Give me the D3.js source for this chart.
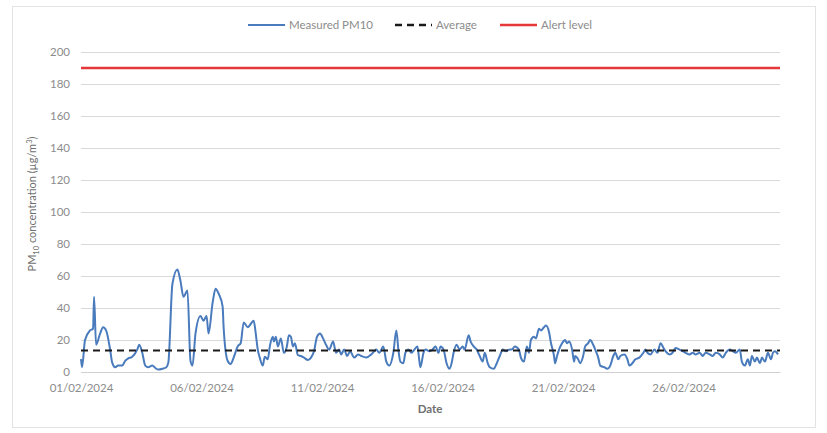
<!DOCTYPE html>
<html>
<head>
<meta charset="utf-8">
<script src="https://cdn.jsdelivr.net/npm/d3@7"></script>
<style>
  html, body { margin: 0; padding: 0; background: #fff; }
  svg { display: block; font-family: Lato, "Open Sans", "Liberation Sans", sans-serif; }
</style>
</head>
<body>
<svg id="chart" width="827" height="433"></svg>
<script>
// ---- Data ----
const startDate = new Date(2024, 1, 1, 0, 0);   // 01/02/2024
const endDate = new Date(2024, 2, 1, 0, 0);     // 01/03/2024
const tickDates = ["01/02/2024", "06/02/2024", "11/02/2024", "16/02/2024", "21/02/2024", "26/02/2024"];
const yTicks = [0, 20, 40, 60, 80, 100, 120, 140, 160, 180, 200];
const averageValue = 13.5;
const alertLevel = 190;
const legendLabels = ["Measured PM10", "Average", "Alert level"];

// hours after 01/02/2024 00:00
const hourOffsets = [
  0, 1, 4, 9, 12, 13, 15, 19, 22, 25, 29, 31, 34, 37, 41, 44, 47, 51, 56, 58,
  61, 64, 67, 71, 74, 77, 81, 85, 87, 91, 96, 99, 102, 106, 109, 111, 114, 119, 122, 125,
  127, 131, 134, 137, 141, 142, 146, 149, 152, 156, 159, 162, 166, 169, 172, 174, 176, 178, 181, 183,
  186, 188, 191, 192, 194, 196, 199, 202, 205, 207, 209, 211, 213, 216, 219, 222, 226, 229, 232, 235,
  238, 241, 244, 247, 251, 254, 257, 259, 262, 265, 268, 272, 276, 279, 284, 289, 292, 294, 297, 301,
  304, 307, 311, 314, 316, 318, 321, 323, 326, 329, 332, 335, 337, 338, 341, 343, 347, 350, 353, 356,
  358, 361, 364, 367, 369, 371, 374, 377, 380, 382, 386, 388, 391, 394, 397, 400, 402, 405, 407, 411,
  414, 417, 420, 423, 427, 429, 432, 436, 438, 441, 444, 446, 448, 451, 453, 456, 458, 461, 463, 466,
  468, 471, 472, 474, 476, 479, 482, 484, 486, 489, 491, 492, 495, 497, 500, 502, 505, 507, 510, 512,
  515, 517, 521, 524, 527, 530, 532, 535, 537, 541, 544, 546, 549, 552, 556, 560, 562, 564, 567, 571,
  574, 577, 580, 582, 586, 589, 592, 596, 599, 602, 606, 609, 612, 616, 619, 622, 626, 629, 632, 636,
  639, 642, 646, 649, 652, 656, 658, 661, 664, 666, 668, 671, 673, 676, 678, 681, 684, 687, 689, 691,
  694
];
const pm10Values = [
  8, 3, 20, 26, 27, 47, 17, 24, 28, 26, 14, 6, 3, 4, 4, 7, 8.5, 9.5, 14, 17,
  12, 4, 3, 4, 2.5, 1.5, 2, 3, 6, 55, 64, 57, 47, 51, 7, 4, 24, 35, 32, 35,
  24, 43, 52, 49, 41, 28, 7, 5, 9, 16, 18, 31, 28, 30, 32, 24, 14, 9, 4, 9.5,
  8, 16, 22, 19, 22, 16, 21, 12, 16, 23, 22, 16, 18, 10.5, 10, 9, 7.5, 9, 13, 22,
  24, 21, 17, 14, 19, 12, 14, 11, 14, 10, 13, 9, 11, 10, 9, 11, 13, 14, 12, 16,
  6.5, 4, 12, 26, 14, 6.5, 5.5, 12, 14, 12, 14, 16, 6.5, 3, 12, 14, 13, 14, 16, 12,
  16, 14, 5.5, 2, 5.5, 12, 17, 14, 16, 14, 23, 19, 16, 14, 10, 6.5, 12, 5.5, 3, 2,
  5.5, 10, 14, 13, 14, 14, 16, 14, 9, 6.5, 16, 12, 20, 22, 21, 27, 26, 28, 29, 25,
  18, 10, 5.5, 10, 14, 18, 20, 18, 19, 14, 6.5, 10, 8, 5.5, 10, 16, 18, 20, 17, 14,
  9, 4, 3, 2, 4, 10, 12, 8, 10, 11, 8, 4, 5.5, 8, 9, 12, 14, 12, 11, 14,
  12, 18, 15, 13, 11, 12, 15, 14, 13, 12, 11, 12, 11, 12, 10, 12, 11, 10, 12, 11,
  9, 12, 14, 13, 12, 14, 6.5, 4, 8, 4, 10, 6.5, 9, 5.5, 9, 6.5, 12, 8, 12, 13,
  11
];

// ---- Layout ----
const svg = d3.select("#chart");
const plot = { left: 81, right: 780, top: 52, bottom: 372 };
const parseDate = d3.timeParse("%d/%m/%Y");
const fmtDate = d3.timeFormat("%d/%m/%Y");

const x = d3.scaleTime().domain([startDate, endDate]).range([plot.left, plot.right]);
const y = d3.scaleLinear().domain([0, 200]).range([plot.bottom, plot.top]);

const series = hourOffsets.map((h, i) => ({ t: d3.timeHour.offset(startDate, h), v: pm10Values[i] }));

// outer border
svg.append("rect").attr("x", 12.5).attr("y", 6.5).attr("width", 803).attr("height", 421)
  .attr("fill", "none").attr("stroke", "#e3e3e3").attr("stroke-width", 1);

// gridlines
const yAxis = d3.axisLeft(y).tickValues(yTicks).tickSize(-(plot.right - plot.left)).tickPadding(11);
const gy = svg.append("g").attr("transform", `translate(${plot.left},0)`).call(yAxis);
gy.select(".domain").remove();
gy.selectAll(".tick line").attr("stroke", "#d9d9d9").attr("stroke-width", 1);
gy.selectAll(".tick text").attr("fill", "#8c8c8c").style("font-size", "11.5px")
  .style("font-family", "Lato, 'Open Sans', sans-serif");

// x axis
const xAxis = d3.axisBottom(x).tickValues(tickDates.map(parseDate)).tickFormat(fmtDate)
  .tickSize(0).tickPadding(12);
const gx = svg.append("g").attr("transform", `translate(0,${plot.bottom})`).call(xAxis);
gx.select(".domain").attr("stroke", "#d0d0d0");
gx.selectAll(".tick text").attr("fill", "#8c8c8c").style("font-size", "11.5px")
  .style("font-family", "Lato, 'Open Sans', sans-serif");

// alert level
svg.append("line")
  .attr("x1", x(startDate)).attr("x2", x(endDate))
  .attr("y1", y(alertLevel)).attr("y2", y(alertLevel))
  .attr("stroke", "#e3373a").attr("stroke-width", 2.5);

// measured line
const line = d3.line().x(d => x(d.t)).y(d => y(d.v)).curve(d3.curveMonotoneX);
svg.append("path").datum(series)
  .attr("fill", "none").attr("stroke", "#4a7bbd").attr("stroke-width", 2)
  .attr("stroke-linejoin", "round").attr("d", line);

// average
svg.append("line")
  .attr("x1", x(startDate)).attr("x2", x(endDate))
  .attr("y1", y(averageValue)).attr("y2", y(averageValue))
  .attr("stroke", "#1a1a1a").attr("stroke-width", 2).attr("stroke-dasharray", "7,5");

// y label
const yl = svg.append("text")
  .attr("transform", `translate(36,204) rotate(-90)`)
  .attr("text-anchor", "middle").attr("fill", "#6f6f6f")
  .style("font-size", "11px").style("font-family", "Lato, 'Open Sans', sans-serif");
yl.append("tspan").text("PM");
yl.append("tspan").text("10").attr("dy", 3).style("font-size", "7.5px");
yl.append("tspan").text(" concentration (µg/m").attr("dy", -3);
yl.append("tspan").text("3").attr("dy", -4).style("font-size", "7.5px");
yl.append("tspan").text(")").attr("dy", 4);

// x label
svg.append("text").attr("x", 430).attr("y", 413).attr("text-anchor", "middle")
  .attr("fill", "#6f6f6f").style("font-size", "11.5px").style("font-weight", "bold")
  .style("font-family", "Lato, 'Open Sans', sans-serif").text("Date");

// legend
const legendY = 25;
const legendItems = [
  { label: legendLabels[0], x0: 248, color: "#4a7bbd", dash: null, w: 2 },
  { label: legendLabels[1], x0: 395, color: "#1a1a1a", dash: "7,5", w: 2.5 },
  { label: legendLabels[2], x0: 500, color: "#e3373a", dash: null, w: 2.5 }
];
const lg = svg.append("g");
legendItems.forEach(it => {
  lg.append("line").attr("x1", it.x0).attr("x2", it.x0 + 37)
    .attr("y1", legendY).attr("y2", legendY)
    .attr("stroke", it.color).attr("stroke-width", it.w)
    .attr("stroke-dasharray", it.dash);
  lg.append("text").attr("x", it.x0 + 41).attr("y", legendY + 4)
    .attr("fill", "#8c8c8c").style("font-size", "11.5px")
    .style("font-family", "Lato, 'Open Sans', sans-serif").text(it.label);
});
</script>
</body>
</html>
